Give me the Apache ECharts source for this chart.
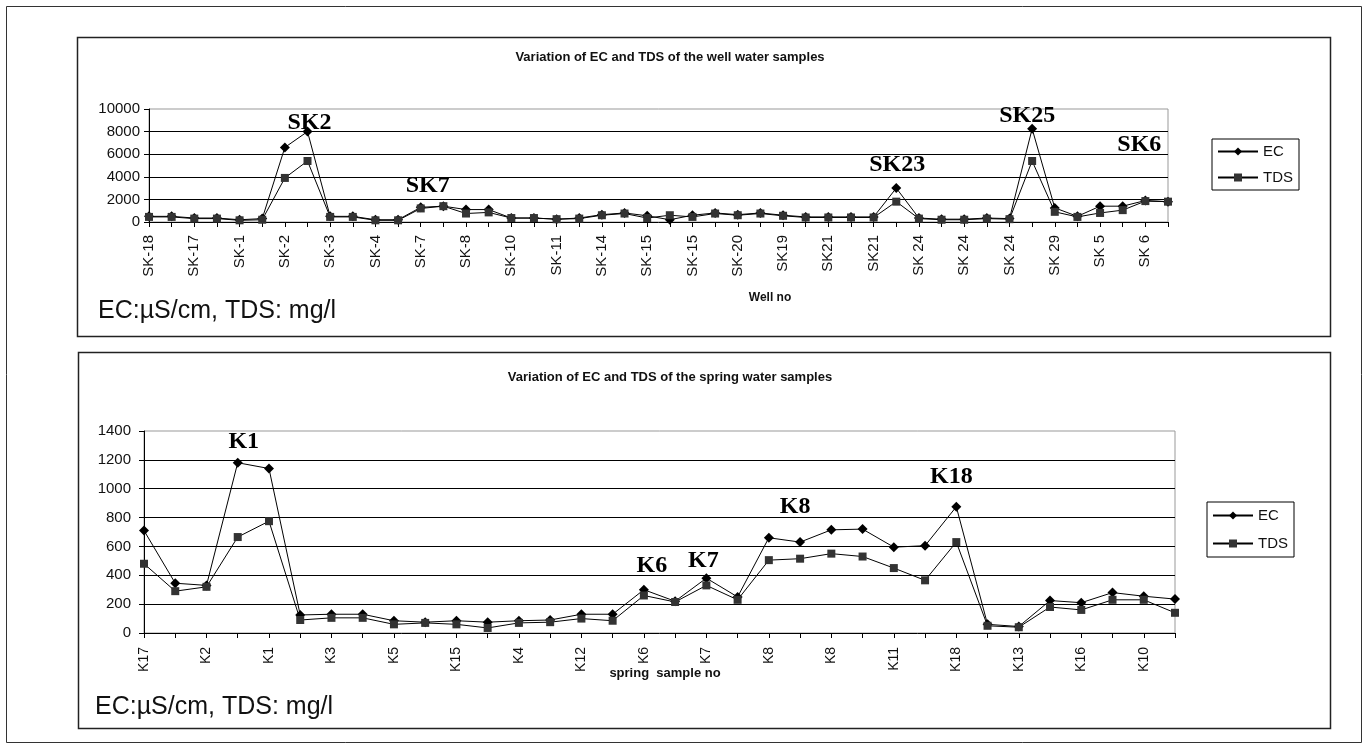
<!DOCTYPE html>
<html><head><meta charset="utf-8">
<script src="https://cdn.jsdelivr.net/npm/echarts@6/dist/echarts.min.js"></script>
<style>html,body{margin:0;padding:0;background:#fff}#c{width:1367px;height:748px}</style>
</head><body><div id="c"></div>
<script>
// ---------- data ----------
const wellLabels = ['SK-18','SK-17','SK-1','SK-2','SK-3','SK-4','SK-7','SK-8','SK-10','SK-11','SK-14','SK-15','SK-15','SK-20','SK19','SK21','SK21','SK 24','SK 24','SK 24','SK 29','SK 5','SK 6'];
const wellEC  = [500,500,350,350,200,300,6600,8000,500,500,200,200,1300,1400,1100,1100,350,350,250,350,650,800,550,200,600,800,650,800,600,450,450,450,450,3000,350,250,250,350,300,8250,1250,500,1400,1400,1900,1800];
const wellTDS = [450,450,300,300,150,200,3900,5400,450,450,150,150,1200,1400,750,850,350,350,250,300,600,750,350,600,450,750,600,750,550,400,400,400,400,1800,300,200,200,300,250,5400,900,450,800,1050,1850,1800];
const wellYTicks = [0,2000,4000,6000,8000,10000];
const wellNotes = [['SK2',7,8800],['SK7',12,3200],['SK23',33,5050],['SK25',39,9400],['SK6',44,6850]];

const springLabels = ['K17','K2','K1','K3','K5','K15','K4','K12','K6','K7','K8','K8','K11','K18','K13','K16','K10'];
const springEC  = [710,345,330,1180,1140,125,130,130,85,75,85,75,85,90,130,130,300,220,380,250,660,630,715,720,595,605,875,60,45,225,210,280,255,235];
const springTDS = [480,290,320,665,775,90,105,105,60,70,60,35,70,75,100,85,260,215,330,230,505,515,550,530,450,365,630,50,40,180,160,230,230,140];
const springYTicks = [0,200,400,600,800,1000,1200,1400];
const springNotes = [['K1',3,1327],['K6',16,469],['K7',18,497],['K8',21,877],['K18',26,1085]];

// ---------- layout / style ----------
const wellShift = [2,7,1,-5,-6];
const springShift = [6,8,-3,-5,-5];
function cats(labels, n){ const a=[]; for(let i=0;i<n;i++) a.push(i%2===0 ? labels[i/2] : ''); return a; }
const SANS = 'Liberation Sans, Arial, sans-serif';
const SERIF = 'Liberation Serif, Times New Roman, serif';

function xAx(gi, labels, n, margin, fs){
  return {type:'category', gridIndex:gi, data:cats(labels,n), boundaryGap:false,
    axisLine:{lineStyle:{color:'#000',width:1}},
    axisTick:{show:true, interval:0, length:5, lineStyle:{color:'#000'}},
    axisLabel:{interval:0, rotate:90, margin:margin, fontSize:fs, fontFamily:SANS, color:'#111'},
    splitLine:{show:false}};
}
function yAx(gi, ticks, margin){
  return {type:'value', gridIndex:gi, min:ticks[0], max:ticks[ticks.length-1], interval:ticks[1]-ticks[0],
    axisLine:{show:true, lineStyle:{color:'#000',width:1}},
    axisTick:{show:true, length:5, lineStyle:{color:'#000'}},
    axisLabel:{margin:margin, fontSize:15, fontFamily:SANS, color:'#111', formatter:(v)=>String(v)},
    splitLine:{show:true, showMinLine:false, showMaxLine:false, lineStyle:{color:'#000',width:1.2}}};
}
function lineS(name, gi, data, sym, size, col){
  return {name:name, type:'line', xAxisIndex:gi, yAxisIndex:gi, data:data, symbol:sym, symbolSize:size,
    showAllSymbol:true, lineStyle:{color:'#000',width:1}, itemStyle:{color:col}, emphasis:{disabled:true}, z:3};
}
function notes(gi, arr, shift){
  return {type:'scatter', xAxisIndex:gi, yAxisIndex:gi, silent:true, symbolSize:1, z:5,
    itemStyle:{color:'rgba(0,0,0,0)', opacity:1},
    data:arr.map((n,i)=>({name:n[0], value:[n[1],n[2]], label:{offset:[shift[i],0]}})),
    label:{show:true, position:'inside', formatter:'{b}', fontFamily:SERIF, fontWeight:'bold', fontSize:24, color:'#000', opacity:1}};
}
function legendAt(left, top, gap, pad){
  return {data:['EC','TDS'], orient:'vertical', left:left, top:top, itemWidth:40, itemHeight:10, itemGap:gap,
    padding:pad, borderColor:'#000', borderWidth:1, selectedMode:false,
    textStyle:{fontSize:15, fontFamily:SANS, color:'#111'}};
}
function txt(x, y, s, fs, bold, align){
  return {type:'text', x:x, y:y, style:{text:s, fontSize:fs, fontWeight:bold?'bold':'normal', fontFamily:SANS, fill:'#111', align:align||'left', verticalAlign:'middle'}};
}

const option = {
  animation:false,
  grid:[
    {left:149, top:109, width:1019, height:113, show:true, borderColor:'#999', borderWidth:1, backgroundColor:'transparent'},
    {left:144, top:431, width:1031, height:202, show:true, borderColor:'#999', borderWidth:1, backgroundColor:'transparent'}
  ],
  xAxis:[ xAx(0, wellLabels, wellEC.length, 13, 15), xAx(1, springLabels, springEC.length, 14, 14) ],
  yAxis:[ yAx(0, wellYTicks, 9), yAx(1, springYTicks, 13) ],
  legend:[ legendAt(1212, 139, 11, [5,6,5,5]), legendAt(1207, 502, 13, [6,6,6,5]) ],
  series:[
    lineS('EC', 0, wellEC, 'diamond', 10, '#000'),
    lineS('TDS', 0, wellTDS, 'rect', 8, '#333'),
    lineS('EC', 1, springEC, 'diamond', 10, '#000'),
    lineS('TDS', 1, springTDS, 'rect', 8, '#333'),
    notes(0, wellNotes, wellShift),
    notes(1, springNotes, springShift)
  ],
  graphic:[
    {type:'rect', shape:{x:6.5,y:6.5,width:1355,height:736}, style:{fill:'none', stroke:'#333', lineWidth:1}, silent:true, z:-10},
    {type:'rect', shape:{x:77.5,y:37.5,width:1253,height:299}, style:{fill:'none', stroke:'#222', lineWidth:1.5}, silent:true, z:-10},
    {type:'rect', shape:{x:78.5,y:352.5,width:1252,height:376}, style:{fill:'none', stroke:'#222', lineWidth:1.5}, silent:true, z:-10},
    txt(670, 57, 'Variation of EC and TDS of the well water samples', 13, true, 'center'),
    txt(670, 377, 'Variation of EC and TDS of the spring water samples', 13, true, 'center'),
    txt(770, 298, 'Well no', 12, true, 'center'),
    txt(665, 673, 'spring  sample no', 13, true, 'center'),
    txt(98, 311, 'EC:\u00b5S/cm, TDS: mg/l', 25, false, 'left'),
    txt(95, 707, 'EC:\u00b5S/cm, TDS: mg/l', 25, false, 'left')
  ]
};
echarts.init(document.getElementById('c'), null, {renderer:'canvas'}).setOption(option);
</script></body></html>
